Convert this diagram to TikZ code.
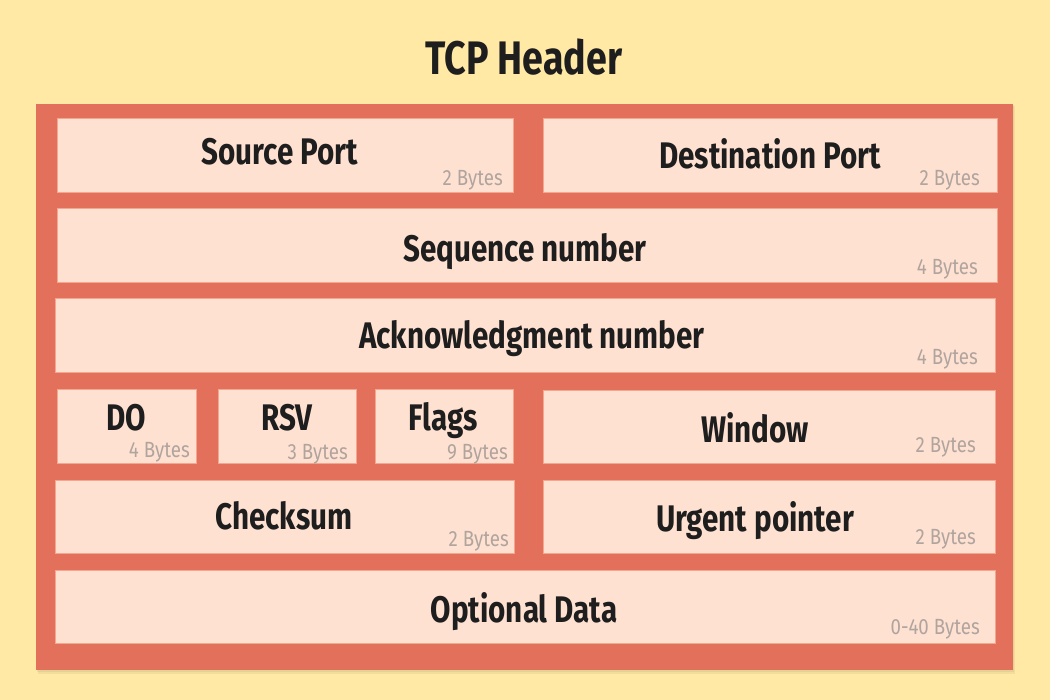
\documentclass[tikz,border=0pt]{standalone}
\usepackage{fontspec}
\setmainfont{Fira Sans}
\newfontfamily\headfont{Fira Sans}[FakeStretch=0.8]
\newfontfamily\bytesfont{Fira Sans}[FakeStretch=0.85]

\definecolor{pagebg}{HTML}{FFE9A5}
\definecolor{frame}{HTML}{E2705A}
\definecolor{fieldfill}{HTML}{FFE1D2}
\definecolor{fieldedge}{HTML}{F5A690}
\definecolor{ink}{HTML}{1E1E1E}
\definecolor{bytesink}{HTML}{B0A49E}

\tikzset{
  field/.style={draw=fieldedge, fill=fieldfill, line width=1bp, inner sep=0pt, anchor=north west},
  fname/.style={anchor=base, inner sep=0pt, text=ink, font=\headfont\bfseries\fontsize{37bp}{40bp}\selectfont},
  fsize/.style={anchor=base east, inner sep=0pt, text=bytesink, font=\bytesfont\fontsize{22bp}{24bp}\selectfont},
  heading/.style={anchor=base, inner sep=0pt, text=ink, font=\headfont\bfseries\fontsize{47bp}{50bp}\selectfont}
}

% a header field: name, top-left x, y, width, height
\newcommand{\hdrfield}[5]{%
  \node[field, minimum width=#4bp, minimum height=#5bp] (#1) at (#2,#3) {};}

\begin{document}
\begin{tikzpicture}[x=1bp, y=-1bp]
  \fill[pagebg] (0,0) rectangle (1050,700);
  \useasboundingbox (0,0) rectangle (1050,700);

  \node[heading] (title) at (524,75) {TCP Header};

  % outer frame with a soft drop shadow
  \fill[black, opacity=0.05] (38,106) rectangle (1015,674);
  \fill[black, opacity=0.05] (37,105) rectangle (1014,672);
  \node[fill=frame, inner sep=0pt, minimum width=977bp, minimum height=566bp, anchor=north west] (frame) at (36,104) {};

  % field boxes
  \hdrfield{src}{57}{118}{456}{74}
  \hdrfield{dst}{543}{118}{454}{74}
  \hdrfield{seq}{57}{208}{940}{74}
  \hdrfield{ack}{55}{298}{940}{74}
  \hdrfield{do}{57}{389}{139}{74}
  \hdrfield{rsv}{218}{389}{138}{74}
  \hdrfield{flg}{375}{389}{138}{74}
  \hdrfield{win}{543}{390}{452}{73}
  \hdrfield{chk}{55}{480}{459}{73}
  \hdrfield{urg}{543}{480}{452}{73}
  \hdrfield{opt}{55}{570}{940}{73}

  % field names
  \node[fname] (srcN) at (280,165) {Source Port};
  \node[fname] (dstN) at (770,169) {Destination Port};
  \node[fname] (seqN) at (525,261) {Sequence number};
  \node[fname] (ackN) at (532,348) {Acknowledgment number};
  \node[fname] (doN)  at (126,430) {DO};
  \node[fname] (rsvN) at (287,430) {RSV};
  \node[fname] (flgN) at (443,430) {Flags};
  \node[fname] (winN) at (755,442) {Window};
  \node[fname] (chkN) at (284,529) {Checksum};
  \node[fname] (urgN) at (755,531) {Urgent pointer};
  \node[fname] (optN) at (524,622) {Optional Data};

  % field sizes
  \node[fsize] (srcS) at (503,186) {2 Bytes};
  \node[fsize] (dstS) at (980,186) {2 Bytes};
  \node[fsize] (seqS) at (978,274) {4 Bytes};
  \node[fsize] (ackS) at (978,364) {4 Bytes};
  \node[fsize] (doS)  at (190,457) {4 Bytes};
  \node[fsize] (rsvS) at (348,459) {3 Bytes};
  \node[fsize] (flgS) at (508,459) {9 Bytes};
  \node[fsize] (winS) at (976,452) {2 Bytes};
  \node[fsize] (chkS) at (509,546) {2 Bytes};
  \node[fsize] (urgS) at (976,544) {2 Bytes};
  \node[fsize] (optS) at (980,634) {0-40 Bytes};
\end{tikzpicture}
\end{document}
